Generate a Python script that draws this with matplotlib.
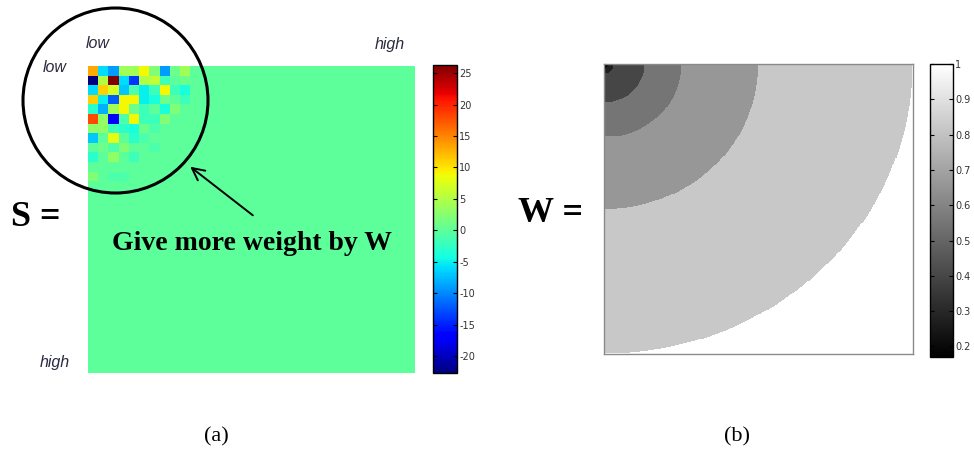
import numpy as np
import matplotlib.pyplot as plt
from matplotlib.patches import Circle

plt.rcParams['axes.unicode_minus'] = False

W_PX, H_PX = 974, 459

# low-frequency corner of the coefficient matrix S (rest of the 32x32 grid is zero)
s_corner = [
    [13.0, -6.0, -9.0, 4.0, 4.0, 9.0, 2.0, -9.0, 1.0, 4.0],
    [-22.7, 5.0, 26.3, -6.0, -14.0, 5.0, 6.0, -2.0, 0.0, 1.0],
    [-6.0, 11.0, 7.0, -7.0, -1.0, -5.0, -2.0, 9.0, -2.0, -4.0],
    [11.0, -5.0, -12.0, 9.0, 9.0, -5.0, -4.0, 1.0, 0.0, -2.0],
    [-3.0, -8.0, 4.0, 9.0, 1.0, -2.0, 0.0, -4.0, 2.0, 0.0],
    [18.0, 3.0, -17.0, -1.0, 9.0, -2.0, -2.0, 2.0, 0.0, 0.0],
    [3.0, 3.0, -2.0, -3.0, -4.0, 1.0, -1.0, 0.0, 0.0, 0.0],
    [-7.0, 0.0, 8.0, 0.0, -3.0, -1.0, 0.0, 0.0, 0.0, 0.0],
    [0.0, 1.0, -1.0, 2.0, 0.0, 0.0, -1.0, 0.0, 0.0, 0.0],
    [-3.0, 0.0, 3.0, 0.0, -2.0, 0.0, 0.0, 0.0, 0.0, 0.0],
    [0.0, 0.0, 0.0, 0.0, 0.0, 0.0, 0.0, 0.0, 0.0, 0.0],
    [2.0, 0.0, -1.0, -1.0, 0.0, 0.0, 0.0, 0.0, 0.0, 0.0],
]
s_size = 32
s_ticks = [-20, -15, -10, -5, 0, 5, 10, 15, 20, 25]

# weight map W: constant levels on quarter rings around the top-left corner
w_radii = [0.012, 0.03, 0.13, 0.25, 0.5, 1.0]
w_levels = [0.17, 0.28, 0.40, 0.55, 0.66, 0.82, 1.0]
w_ticks = [0.2, 0.3, 0.4, 0.5, 0.6, 0.7, 0.8, 0.9, 1.0]
w_ticklabels = ['0.2', '0.3', '0.4', '0.5', '0.6', '0.7', '0.8', '0.9', '1']

S = np.zeros((s_size, s_size))
corner = np.array(s_corner)
S[:corner.shape[0], :corner.shape[1]] = corner

n = 300
u = np.linspace(0, 1, n)
xx, yy = np.meshgrid(u, u)
W = np.array(w_levels)[np.digitize(np.hypot(xx, yy), w_radii)]


def box(x0, y0, x1, y1):
    # pixel box (top-left origin) -> figure fractions
    return [x0 / W_PX, 1 - y1 / H_PX, (x1 - x0) / W_PX, (y1 - y0) / H_PX]


def style_cbar(cb, ticks, labels=None):
    cb.set_ticks(ticks)
    if labels is not None:
        cb.set_ticklabels(labels)
    cb.outline.set_linewidth(1.0)
    cb.ax.tick_params(direction='in', left=True, right=True, length=3,
                      width=0.8, labelsize=7, labelcolor='#333333', pad=1.5)


fig = plt.figure(figsize=(W_PX / 100, H_PX / 100), dpi=100)

# (a) coefficient matrix
ax_s = fig.add_axes(box(88, 66, 415, 373))
im_s = ax_s.imshow(S, cmap='jet', aspect='auto', interpolation='nearest')
ax_s.set_axis_off()
cax_s = fig.add_axes(box(433, 65, 457, 373))
style_cbar(fig.colorbar(im_s, cax=cax_s), s_ticks)

# (b) weight map
ax_w = fig.add_axes(box(604, 64, 913, 354))
im_w = ax_w.imshow(W, cmap='gray', vmin=0.17, vmax=1.0, aspect='auto',
                   interpolation='nearest')
ax_w.set_xticks([])
ax_w.set_yticks([])
for sp in ax_w.spines.values():
    sp.set_color('#8a8a8a')
    sp.set_linewidth(1.0)
cax_w = fig.add_axes(box(930, 64, 953, 357))
style_cbar(fig.colorbar(im_w, cax=cax_w), w_ticks, w_ticklabels)

# annotation layer in pixel coordinates
ov = fig.add_axes([0, 0, 1, 1], zorder=10)
ov.set_xlim(0, W_PX)
ov.set_ylim(H_PX, 0)
ov.set_axis_off()
ov.patch.set_alpha(0)

ov.add_patch(Circle((115.5, 100.5), 92.5, fill=False, lw=2.2, color='black'))
ov.annotate('', xy=(188, 165), xytext=(255, 217),
            arrowprops=dict(arrowstyle='->', lw=1.4, color='black',
                            mutation_scale=22))

serif = 'Liberation Serif'
ov.text(252, 243, 'Give more weight by W', family=serif, weight='bold',
        fontsize=20, ha='center', va='center')
ov.text(36, 217, 'S =', family=serif, weight='bold', fontsize=26,
        ha='center', va='center')
ov.text(551, 213, 'W =', family=serif, weight='bold', fontsize=26,
        ha='center', va='center')

lab = dict(family='Liberation Sans', style='italic', fontsize=11.5,
           color='#2a2a40', ha='center', va='center')
ov.text(98, 44, 'low', **lab)
ov.text(390, 44, 'high', **lab)
ov.text(55, 67, 'low', **lab)
ov.text(55, 363, 'high', **lab)

ov.text(216, 437, '(a)', family=serif, fontsize=16, ha='center', va='center')
ov.text(737, 437, '(b)', family=serif, fontsize=16, ha='center', va='center')

fig.savefig('out.png', dpi=100)
